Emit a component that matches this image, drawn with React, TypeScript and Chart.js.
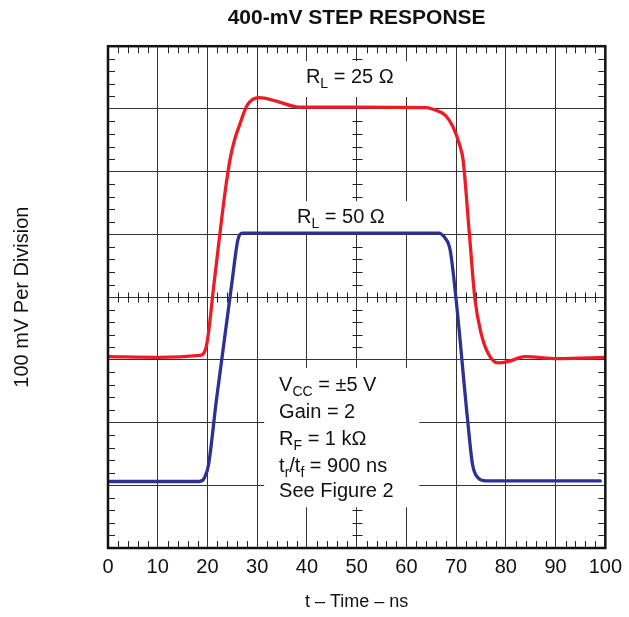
import React, { useEffect, useRef } from 'react';
import { Chart, registerables } from 'chart.js';

Chart.register(...registerables);

const FONT = '"Liberation Sans", Arial, Helvetica, sans-serif';

// ---- data (time in ns, amplitude in mV; 100 mV per division) ----
const xTickValues = [0, 10, 20, 30, 40, 50, 60, 70, 80, 90, 100];

const redTime = [0, 10, 18.4, 19.7, 21.4, 23.5, 24.6, 25.5, 26.4, 28, 30.4, 34, 38.4, 50, 64, 65.5, 67.8, 69.4, 70.8, 71.4, 72.6, 73.8, 75, 76.4, 78.4, 80.4, 83.8, 90.4, 100];
const redMv = [-95, -96, -93, -81, 27, 165, 222, 252, 273, 306, 318, 312, 303, 303, 302, 299, 290, 271, 240, 219, 107, -4, -57, -89, -105, -103, -95, -98, -96];

const blueTime = [0, 10, 18.4, 19.4, 20.2, 21.8, 25, 26.1, 27, 40, 66.4, 67.8, 68.8, 70, 72.3, 73.3, 74.4, 76, 99];
const blueMv = [-294, -294, -294, -288, -268, -164, 28, 91, 102, 102, 102, 94, 75, -4, -195, -267, -288, -293, -293];

const titleText = '400-mV STEP RESPONSE';
const xTitle = 't – Time – ns';
const yTitle = '100 mV Per Division';

// annotation texts: segments of [text, isSubscript]
const labelRL25: [string, boolean][] = [['R', false], ['L', true], [' = 25 Ω', false]];
const labelRL50: [string, boolean][] = [['R', false], ['L', true], [' = 50 Ω', false]];
const noteLines: [string, boolean][][] = [
  [['V', false], ['CC', true], [' = ±5 V', false]],
  [['Gain = 2', false]],
  [['R', false], ['F', true], [' = 1 kΩ', false]],
  [['t', false], ['r', true], ['/t', false], ['f', true], [' = 900 ns', false]],
  [['See Figure 2', false]],
];

// ---- annotation placement (value space) ----
const textSpots = [
  { parts: labelRL25, t: 39.8, mv: 341 },
  { parts: labelRL50, t: 38, mv: 118 },
  { parts: noteLines[0], t: 34.4, mv: -150 },
  { parts: noteLines[1], t: 34.4, mv: -193 },
  { parts: noteLines[2], t: 34.4, mv: -236 },
  { parts: noteLines[3], t: 34.4, mv: -279 },
  { parts: noteLines[4], t: 34.4, mv: -319 },
];
const whiteBoxes = [
  { t0: 37.6, t1: 60.8, v0: 376, v1: 319 },
  { t0: 36.4, t1: 60.8, v0: 153, v1: 104 },
  { t0: 31.4, t1: 62.6, v0: -113, v1: -335 },
];

function drawRich(ctx: CanvasRenderingContext2D, x: number, y: number, parts: [string, boolean][]) {
  let cx = x;
  for (const [txt, sub] of parts) {
    ctx.font = sub ? `14px ${FONT}` : `20px ${FONT}`;
    ctx.fillText(txt, cx, sub ? y + 5 : y);
    cx += ctx.measureText(txt).width;
  }
}

const scopePlugin = {
  id: 'scopeDecor',
  beforeDatasetsDraw(chart: any) {
    const { ctx, chartArea: a, scales } = chart;
    const xs = scales.x;
    const ys = scales.y;
    ctx.save();
    ctx.strokeStyle = '#222';
    ctx.lineWidth = 1;
    ctx.beginPath();
    const cy = Math.round(ys.getPixelForValue(0)) + 0.5;
    const cx = Math.round(xs.getPixelForValue(50)) + 0.5;
    for (let t = 2; t < 100; t += 2) {
      if (t % 10 === 0) continue;
      const px = Math.round(xs.getPixelForValue(t)) + 0.5;
      ctx.moveTo(px, a.top); ctx.lineTo(px, a.top + 7);
      ctx.moveTo(px, a.bottom); ctx.lineTo(px, a.bottom - 7);
      ctx.moveTo(px, cy - 5); ctx.lineTo(px, cy + 5);
    }
    for (let v = -380; v < 400; v += 20) {
      if (v % 100 === 0) continue;
      const py = Math.round(ys.getPixelForValue(v)) + 0.5;
      ctx.moveTo(a.left, py); ctx.lineTo(a.left + 7, py);
      ctx.moveTo(a.right, py); ctx.lineTo(a.right - 7, py);
      ctx.moveTo(cx - 5, py); ctx.lineTo(cx + 5, py);
    }
    ctx.stroke();
    ctx.fillStyle = '#fff';
    for (const b of whiteBoxes) {
      const x0 = xs.getPixelForValue(b.t0);
      const x1 = xs.getPixelForValue(b.t1);
      const y0 = ys.getPixelForValue(b.v0);
      const y1 = ys.getPixelForValue(b.v1);
      ctx.fillRect(x0, y0, x1 - x0, y1 - y0);
    }
    ctx.restore();
  },
  afterDatasetsDraw(chart: any) {
    const { ctx, chartArea: a, scales } = chart;
    ctx.save();
    ctx.strokeStyle = '#111';
    ctx.lineWidth = 2.5;
    ctx.strokeRect(a.left, a.top, a.right - a.left, a.bottom - a.top);
    ctx.fillStyle = '#111';
    ctx.textBaseline = 'alphabetic';
    ctx.textAlign = 'left';
    for (const s of textSpots) {
      drawRich(ctx, scales.x.getPixelForValue(s.t), scales.y.getPixelForValue(s.mv), s.parts);
    }
    ctx.restore();
  },
};

export default function App() {
  const ref = useRef<HTMLCanvasElement | null>(null);
  useEffect(() => {
    if (!ref.current) return;
    const gridColor = '#333';
    const chart = new Chart(ref.current, {
      type: 'line',
      data: {
        datasets: [
          {
            label: 'RL = 25 Ω',
            data: redTime.map((t, i) => ({ x: t, y: redMv[i] })),
            borderColor: '#ed1c24',
            borderWidth: 3.3,
            pointRadius: 0,
            cubicInterpolationMode: 'monotone',
            borderCapStyle: 'round',
            borderJoinStyle: 'round',
            fill: false,
          },
          {
            label: 'RL = 50 Ω',
            data: blueTime.map((t, i) => ({ x: t, y: blueMv[i] })),
            borderColor: '#2e3192',
            borderWidth: 3.3,
            pointRadius: 0,
            cubicInterpolationMode: 'monotone',
            borderCapStyle: 'round',
            borderJoinStyle: 'round',
            fill: false,
          },
        ],
      },
      options: {
        responsive: false,
        animation: false,
        devicePixelRatio: 1,
        layout: { padding: { left: 0, right: 21, top: 0, bottom: 0 } },
        plugins: {
          legend: { display: false },
          tooltip: { enabled: false },
          title: {
            display: true,
            fullSize: false,
            text: titleText,
            color: '#111',
            font: { family: FONT, size: 21, weight: 'bold' },
            padding: { top: 6, bottom: 15 },
          },
        },
        scales: {
          x: {
            type: 'linear',
            min: 0,
            max: 100,
            afterFit: (s: any) => { s.height = 69; },
            afterBuildTicks: (s: any) => { s.ticks = xTickValues.map((v) => ({ value: v })); },
            ticks: {
              color: '#111',
              font: { family: FONT, size: 20 },
              padding: 7,
              maxRotation: 0,
              autoSkip: false,
            },
            grid: { color: gridColor, lineWidth: 1, drawTicks: false },
            border: { display: false },
            title: {
              display: true,
              text: xTitle,
              color: '#111',
              font: { family: FONT, size: 18 },
              padding: { top: 0, bottom: 4 },
            },
          },
          y: {
            type: 'linear',
            min: -400,
            max: 400,
            afterFit: (s: any) => { s.width = 108; },
            ticks: { display: false, stepSize: 100 },
            grid: { color: gridColor, lineWidth: 1, drawTicks: false },
            border: { display: false },
            title: {
              display: true,
              text: yTitle,
              color: '#111',
              font: { family: FONT, size: 20 },
              padding: { top: 10, bottom: 0 },
            },
          },
        },
      },
      plugins: [scopePlugin],
    } as any);
    return () => chart.destroy();
  }, []);
  return (
    <div style={{ position: 'absolute', left: 0, top: 0, width: 629, height: 617, background: '#fff' }}>
      <canvas ref={ref} width={629} height={617} style={{ display: 'block' }} />
    </div>
  );
}
